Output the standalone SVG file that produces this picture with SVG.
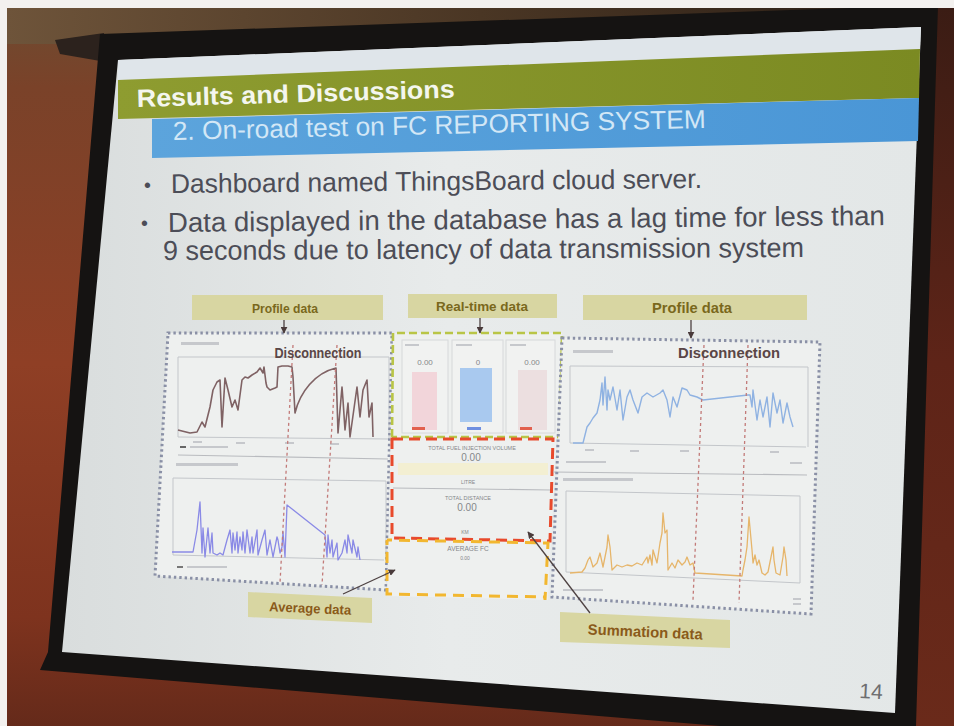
<svg xmlns="http://www.w3.org/2000/svg" width="954" height="726" viewBox="0 0 954 726">
  <defs>
    <linearGradient id="wall" x1="0" y1="0" x2="0" y2="1">
      <stop offset="0" stop-color="#6c4c32"/>
      <stop offset="0.12" stop-color="#7a4229"/>
      <stop offset="0.5" stop-color="#8f3f25"/>
      <stop offset="0.85" stop-color="#7e331e"/>
      <stop offset="1" stop-color="#652a1a"/>
    </linearGradient>
    <linearGradient id="topband" x1="0" y1="0" x2="1" y2="0">
      <stop offset="0" stop-color="#6e543a"/>
      <stop offset="0.5" stop-color="#4a3624"/>
      <stop offset="1" stop-color="#2a1e16"/>
    </linearGradient>
    <linearGradient id="rightwall" x1="0" y1="0" x2="0" y2="1">
      <stop offset="0" stop-color="#3a1c14"/>
      <stop offset="0.5" stop-color="#5e2418"/>
      <stop offset="1" stop-color="#6a2a1a"/>
    </linearGradient>
    <linearGradient id="screen" x1="0" y1="0" x2="1" y2="0">
      <stop offset="0" stop-color="#d9dddd"/>
      <stop offset="0.45" stop-color="#e8ebeb"/>
      <stop offset="1" stop-color="#e3e7e7"/>
    </linearGradient>
    <linearGradient id="green" x1="0" y1="0" x2="1" y2="0">
      <stop offset="0" stop-color="#8e9c30"/>
      <stop offset="1" stop-color="#7b8a22"/>
    </linearGradient>
    <linearGradient id="blue" x1="0" y1="0" x2="1" y2="0">
      <stop offset="0" stop-color="#5ca4dc"/>
      <stop offset="1" stop-color="#4a96d6"/>
    </linearGradient>
    <marker id="arr" viewBox="0 0 10 10" refX="9" refY="5" markerWidth="7" markerHeight="7" orient="auto" markerUnits="userSpaceOnUse">
      <path d="M0,0 L10,5 L0,10 z" fill="#4a3b3b"/>
    </marker>
    <style>
      .sans { font-family: "Liberation Sans", Arial, sans-serif; }
      .lbl { fill: #d8d6a2; }
      .lbltxt { font-family: "Liberation Sans", Arial, sans-serif; font-weight: bold; fill: #7a681c; text-anchor: middle; }
      .disctxt { font-family: "Liberation Sans", Arial, sans-serif; font-weight: bold; fill: #5a4646; text-anchor: middle; }
      .bullet { font-family: "Liberation Sans", Arial, sans-serif; fill: #4c4d57; }
      .panel { fill: #eef0ef; }
      .dot { fill: none; stroke: #8a90a6; stroke-width: 3; stroke-dasharray: 2.4 3; }
      .axis { fill: none; stroke: #c3c6ca; stroke-width: 1; }
      .sep { fill: none; stroke: #b9bbbf; stroke-width: 1.2; }
      .faint { fill: #c6c8cc; }
      .disc { fill: none; stroke: #c27a78; stroke-width: 1.3; stroke-dasharray: 3 3; }
      .trace { fill: none; stroke-linejoin: round; }
      .card { fill: #f1f2f1; stroke: #d6d8da; stroke-width: 1; }
      .tiny { font-family: "Liberation Sans", Arial, sans-serif; fill: #85878a; text-anchor: middle; }
      .conn { fill: none; stroke: #4e4242; stroke-width: 1.3; marker-end: url(#arr); }
    </style>
  </defs>

  <!-- room: wall, photo border, projector screen casing -->
  <rect x="0" y="0" width="954" height="726" fill="url(#wall)"/>
  <polygon points="7,8 954,8 954,14 100,44 7,44" fill="url(#topband)"/>
  <polygon points="920,0 954,0 954,726 900,726" fill="url(#rightwall)"/>
  <polygon points="55,40 104,33 106,62 60,54" fill="#2c221d"/>
  <polygon points="100,34 938,5 916,726 720,726 40,670 48,652" fill="#151312"/>
  <rect x="0" y="0" width="954" height="8" fill="#f3f1ef"/>
  <rect x="0" y="0" width="7" height="726" fill="#f3f1ef"/>

  <!-- slide surface -->
  <polygon points="118,60 921,27 895,713 62,652" fill="url(#screen)"/>
  <polygon points="118,60 921,27 920,49 118,80" fill="#dfe5ea"/>

  <!-- slide header -->
  <polygon points="118,80 920,49 919,98 118,119" fill="url(#green)"/>
  <polygon points="152,119 919,98 918,141 152,158" fill="url(#blue)"/>
  <text class="sans" x="137" y="107" font-size="25" font-weight="bold" fill="#f4f6ee" textLength="318" lengthAdjust="spacingAndGlyphs" transform="rotate(-1.7 137 107)">Results and Discussions</text>
  <text class="sans" x="173" y="140" font-size="26" fill="#d2e7f6" textLength="533" lengthAdjust="spacingAndGlyphs" transform="rotate(-1.3 173 140)">2. On-road test on FC REPORTING SYSTEM</text>

  <!-- bullet points -->
  <g id="bullets">
    <text class="bullet" x="144" y="192" font-size="20" transform="rotate(-0.6 144 192)">•</text>
    <text class="bullet" x="171" y="193" font-size="27" textLength="531" lengthAdjust="spacingAndGlyphs" transform="rotate(-0.55 171 193)">Dashboard named ThingsBoard cloud server.</text>
    <text class="bullet" x="141" y="230" font-size="20" transform="rotate(-0.6 141 230)">•</text>
    <text class="bullet" x="168" y="232" font-size="27.5" textLength="717" lengthAdjust="spacingAndGlyphs" transform="rotate(-0.56 168 232)">Data displayed in the database has a lag time for less than</text>
    <text class="bullet" x="163" y="260" font-size="27.5" textLength="641" lengthAdjust="spacingAndGlyphs" transform="rotate(-0.27 163 260)">9 seconds due to latency of data transmission system</text>
  </g>

  <!-- left dashboard: profile charts -->
  <g id="panel-profile-left">
    <polygon class="panel" points="168,333 392,333 386,590 155,576"/>
    <rect class="faint" x="181" y="342" width="38" height="3"/>
    <path class="axis" d="M178,357 H389 V439 M178,357 V437 L389,439"/>
    <rect class="faint" x="193" y="441" width="9" height="2"/>
    <rect class="faint" x="236" y="442" width="9" height="2"/>
    <rect class="faint" x="285" y="442" width="9" height="2"/>
    <rect class="faint" x="330" y="443" width="9" height="2"/>
    <rect x="180" y="446" width="6" height="2" fill="#666"/>
    <rect class="faint" x="190" y="446" width="38" height="2"/>
    <path class="sep" d="M178,455 L388,459"/>
    <rect class="faint" x="176" y="463" width="62" height="3"/>
    <path class="axis" d="M173,478 L386,481 V561 M173,478 V555 L384,560"/>
    <rect x="177" y="566" width="6" height="2" fill="#777"/>
    <rect class="faint" x="187" y="566" width="40" height="2"/>
    <path class="trace" stroke="#7f6264" stroke-width="1.6" d="M178,430 L190,433 197,432 202,422 205,427 210,407 213,390 217,382 220,380 222,427 225,378 228,390 232,407 235,400 238,410 242,380 245,377 248,378 252,375 257,372 260,368 263,373 264,367 266,383 267,387 270,390 275,388 277,387 278,367 282,366 288,366 292,367 293,377 295,413 C300,392 315,373 336,368 L338,433 342,387 343,400 345,430 348,403 350,437 357,387 360,417 363,390 367,380 369,417 372,403 373,437"/>
    <polyline class="trace" stroke="#8a8ae6" stroke-width="1.3" points="172,552 193,552 197,530 200,502 202,553 203,528 205,557 208,528 210,553 212,533 213,553 217,555 220,553 223,555 227,540 230,530 232,553 233,533 235,550 237,532 238,553 240,537 242,550 243,532 245,553 247,530 250,553 252,537 253,553 257,530 258,555 262,540 265,530 267,555 270,540 273,557 277,537 278,540 280,553 282,547 283,532 285,557 287,505 325,535 327,557 328,535 330,553 332,540 333,557 337,543 338,560 342,553 345,540 347,553 348,535 352,553 353,540 357,557 358,547 360,560"/>
    <path class="disc" d="M293,345 L280,583 M337,345 L322,585"/>
    <text class="disctxt" x="318" y="358" font-size="14.5" textLength="87" lengthAdjust="spacingAndGlyphs">Disconnection</text>
    <polygon class="dot" points="168,333 392,333 386,590 155,576"/>
  </g>

  <!-- middle dashboard: real-time gauges and totals -->
  <g id="panel-realtime">
    <polygon class="panel" points="393,333 562,333 548,600 387,596"/>
    <rect class="card" x="402" y="340" width="46" height="93"/>
    <rect class="card" x="452" y="340" width="51" height="93"/>
    <rect class="card" x="506" y="340" width="49" height="93"/>
    <rect class="faint" x="405" y="344" width="14" height="2"/>
    <rect class="faint" x="456" y="344" width="16" height="2"/>
    <rect class="faint" x="510" y="344" width="16" height="2"/>
    <text class="tiny" x="425" y="365" font-size="8">0.00</text>
    <text class="tiny" x="478" y="365" font-size="8">0</text>
    <text class="tiny" x="532" y="365" font-size="8">0.00</text>
    <rect x="412" y="372" width="25" height="58" fill="#f2d5da"/>
    <rect x="460" y="368" width="32" height="54" fill="#a9c9ef"/>
    <rect x="518" y="370" width="29" height="60" fill="#ecdfe0"/>
    <rect x="412" y="427" width="13" height="3" fill="#e2604e"/>
    <rect x="467" y="427" width="14" height="3" fill="#6f8fe0"/>
    <rect x="520" y="427" width="12" height="3" fill="#e2604e"/>

    <rect x="398" y="463" width="150" height="12" fill="#f3efd2"/>
    <text class="tiny" x="472" y="450" font-size="5.5">TOTAL FUEL INJECTION VOLUME</text>
    <text class="tiny" x="471" y="461" font-size="10">0.00</text>
    <text class="tiny" x="468" y="484" font-size="5">LITRE</text>
    <path class="sep" d="M393,488 L551,490"/>
    <text class="tiny" x="468" y="500" font-size="5.5">TOTAL DISTANCE</text>
    <text class="tiny" x="467" y="511" font-size="10">0.00</text>
    <text class="tiny" x="465" y="534" font-size="5">KM</text>
    <text class="tiny" x="468" y="551" font-size="6.5">AVERAGE FC</text>
    <text class="tiny" x="465" y="560" font-size="5">0.00</text>

    <!-- real-time block outline -->
    <path fill="none" stroke="#b9c546" stroke-width="2.6" stroke-dasharray="8 4" d="M392,437 L393,333 H562 L560,437 H392"/>
    <!-- summation block outline -->
    <path fill="none" stroke="#e84a2c" stroke-width="3" stroke-dasharray="11 6" d="M392,439 H553 L550,541 L392,538 Z"/>
    <!-- average block outline -->
    <path fill="none" stroke="#f2b730" stroke-width="3" stroke-dasharray="11 7" stroke-dashoffset="6" d="M387,540 L548,543 L545,600 M548,543 M387,540 V594 L545,597"/>
  </g>

  <!-- right dashboard: profile charts -->
  <g id="panel-profile-right">
    <polygon class="panel" points="562,338 820,342 811,614 552,597"/>
    <rect class="faint" x="573" y="350" width="40" height="3"/>
    <path class="axis" d="M570,366 L808,367 V447 M570,366 V443 L806,447"/>
    <rect class="faint" x="585" y="449" width="9" height="2"/>
    <rect class="faint" x="630" y="450" width="9" height="2"/>
    <rect class="faint" x="680" y="450" width="9" height="2"/>
    <rect class="faint" x="770" y="451" width="9" height="2"/>
    <rect class="faint" x="566" y="461" width="40" height="2"/>
    <rect class="faint" x="790" y="462" width="12" height="2"/>
    <path class="sep" d="M553,472 L807,475"/>
    <rect class="faint" x="563" y="478" width="70" height="3"/>
    <path class="axis" d="M566,491 L800,496 V583 M566,491 V572 L800,583"/>
    <rect class="faint" x="563" y="589" width="40" height="2"/>
    <rect class="faint" x="793" y="598" width="8" height="2"/>
    <rect class="faint" x="793" y="603" width="8" height="2"/>
    <polyline class="trace" stroke="#8fb2e2" stroke-width="1.4" points="573,443 583,443 587,427 590,423 593,418 597,413 600,400 602,383 603,405 605,377 607,410 608,390 610,400 613,387 617,410 620,390 623,420 627,397 630,390 633,400 638,413 642,397 647,393 653,397 660,393 663,390 667,400 670,417 673,397 677,407 682,388 687,390 690,395 697,397 703,400 748,395 750,395 752,407 753,390 757,420 760,400 763,417 767,397 770,427 773,393 777,413 780,400 783,423 787,403 790,417 793,427"/>
    <polyline class="trace" stroke="#e6b56a" stroke-width="1.3" points="570,573 582,572 585,568 588,560 590,557 593,567 597,563 600,553 603,567 607,547 608,535 610,547 612,570 617,565 622,567 627,565 632,566 637,563 642,565 647,557 648,563 650,555 652,565 653,550 657,563 660,543 662,533 663,513 665,533 667,530 668,570 672,563 675,568 678,560 682,565 685,562 687,557 690,565 693,563 695,573 742,576 743,570 745,560 747,547 749,517 752,550 753,563 755,555 757,565 759,560 762,573 765,575 768,572 771,557 773,547 774,560 776,573 780,575 783,557 784,547 786,560 787,576"/>
    <path class="disc" d="M704,345 L693,600 M748,345 L739,603"/>
    <text class="disctxt" x="729" y="358" font-size="15.5" textLength="102" lengthAdjust="spacingAndGlyphs">Disconnection</text>
    <polygon class="dot" points="562,338 820,342 811,614 552,597"/>
  </g>

  <!-- callout labels -->
  <g id="label-profile-left">
    <rect class="lbl" x="192" y="295" width="191" height="25"/>
    <text class="lbltxt" x="285" y="313" font-size="13" textLength="66" lengthAdjust="spacingAndGlyphs">Profile data</text>
  </g>
  <g id="label-realtime">
    <rect class="lbl" x="408" y="294" width="149" height="24"/>
    <text class="lbltxt" x="482" y="311" font-size="13" textLength="92" lengthAdjust="spacingAndGlyphs">Real-time data</text>
  </g>
  <g id="label-profile-right">
    <rect class="lbl" x="583" y="295" width="224" height="25"/>
    <text class="lbltxt" x="692" y="313" font-size="14.5" textLength="80" lengthAdjust="spacingAndGlyphs">Profile data</text>
  </g>
  <g id="label-average">
    <polygon class="lbl" points="248,592 372,598 372,623 248,617"/>
    <text class="lbltxt" x="310" y="613" font-size="13.5" fill="#8a5a1a" style="fill:#8a5a1a" textLength="82" lengthAdjust="spacingAndGlyphs" transform="rotate(2.6 310 613)">Average data</text>
  </g>
  <g id="label-summation">
    <polygon class="lbl" points="560,612 730,620 730,648 560,642"/>
    <text class="lbltxt" x="645" y="637" font-size="15" style="fill:#8a5a1a" textLength="115" lengthAdjust="spacingAndGlyphs" transform="rotate(2.6 645 637)">Summation data</text>
  </g>

  <!-- connectors -->
  <g id="connectors">
    <line class="conn" x1="284" y1="320" x2="284" y2="333"/>
    <line class="conn" x1="480" y1="318" x2="480" y2="333"/>
    <line class="conn" x1="691" y1="320" x2="691" y2="338"/>
    <line class="conn" x1="343" y1="594" x2="395" y2="570"/>
    <line class="conn" x1="590" y1="613" x2="528" y2="532"/>
  </g>

  <!-- page number -->
  <text class="sans" x="859" y="698" font-size="21" fill="#6e6e70" transform="rotate(3 859 698)">14</text>
</svg>
